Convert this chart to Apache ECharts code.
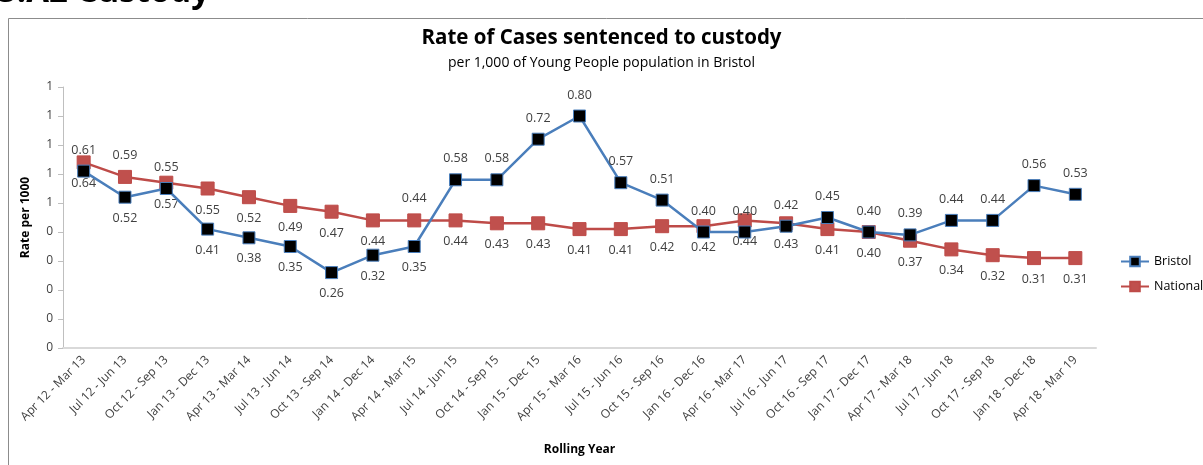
<!DOCTYPE html>
<html>
<head>
<meta charset="utf-8">
<script src="https://cdn.jsdelivr.net/npm/echarts@6/dist/echarts.min.js"></script>
<style>
  html, body { margin: 0; padding: 0; background: #fff; }
  #chart { width: 1203px; height: 465px; }
</style>
</head>
<body>
<div id="chart"></div>
<script>
// rolling year periods
const categories = [
    'Apr 12 - Mar 13', 'Jul 12 - Jun 13', 'Oct 12 - Sep 13', 'Jan 13 - Dec 13',
    'Apr 13 - Mar 14', 'Jul 13 - Jun 14', 'Oct 13 - Sep 14', 'Jan 14 - Dec 14',
    'Apr 14 - Mar 15', 'Jul 14 - Jun 15', 'Oct 14 - Sep 15', 'Jan 15 - Dec 15',
    'Apr 15 - Mar 16', 'Jul 15 - Jun 16', 'Oct 15 - Sep 16', 'Jan 16 - Dec 16',
    'Apr 16 - Mar 17', 'Jul 16 - Jun 17', 'Oct 16 - Sep 17', 'Jan 17 - Dec 17',
    'Apr 17 - Mar 18', 'Jul 17 - Jun 18', 'Oct 17 - Sep 18', 'Jan 18 - Dec 18',
    'Apr 18 - Mar 19'
]
const bristol = [0.61, 0.52, 0.55, 0.41, 0.38, 0.35, 0.26, 0.32, 0.35, 0.58, 0.58, 0.72, 0.80,
    0.57, 0.51, 0.40, 0.40, 0.42, 0.45, 0.40, 0.39, 0.44, 0.44, 0.56, 0.53]
const national = [0.64, 0.59, 0.57, 0.55, 0.52, 0.49, 0.47, 0.44, 0.44, 0.44, 0.43, 0.43, 0.41,
    0.41, 0.42, 0.42, 0.44, 0.43, 0.41, 0.40, 0.37, 0.34, 0.32, 0.31, 0.31]
const yTicks = { min: 0, max: 0.9, interval: 0.1 }

// label placement moved by hand in the original
const bristolBelow = [1, 3, 4, 5, 6, 7, 8]
const nationalAbove = [1, 8]

const font = '"Open Sans", "DejaVu Sans", sans-serif'
const textCol = '#404040'

function withLabels(values, flipList, defPos, flipPos) {
    return values.map((v, i) => ({
        value: v,
        label: { position: flipList.indexOf(i) >= 0 ? flipPos : defPos }
    }))
}

const chart = echarts.init(document.getElementById('chart'))

chart.setOption({
    animation: false,
    title: {
        text: 'Rate of Cases sentenced to custody',
        subtext: 'per 1,000 of Young People population in Bristol',
        left: 'center',
        top: 23,
        itemGap: 7,
        textStyle: { fontFamily: font, fontWeight: 'bold', fontSize: 20.5, color: '#000' },
        subtextStyle: { fontFamily: font, fontSize: 14, color: '#000' }
    },
    graphic: [
        {
            type: 'rect',
            shape: { x: 8.5, y: 18.5, width: 1200, height: 460 },
            style: { fill: 'none', stroke: '#8c8c8c', lineWidth: 1 },
            silent: true
        },
        {
            type: 'text',
            left: -2,
            top: -24,
            style: { text: '5.A2 Custody', font: 'bold 33px "Open Sans", sans-serif', fill: '#000' },
            silent: true
        }
    ],
    legend: {
        orient: 'vertical',
        left: 1115,
        top: 250,
        itemWidth: 28,
        itemHeight: 12,
        itemGap: 12,
        textStyle: { fontFamily: font, fontSize: 12.5, color: '#000' },
        data: ['Bristol', 'National']
    },
    grid: { left: 63, right: 107, top: 87, bottom: 117 },
    xAxis: {
        type: 'category',
        data: categories,
        name: 'Rolling Year',
        nameLocation: 'middle',
        nameGap: 96,
        nameTextStyle: { fontFamily: font, fontWeight: 'bold', fontSize: 12, color: '#000' },
        axisLine: { lineStyle: { color: '#d9d9d9', width: 2 } },
        axisTick: { show: false },
        axisLabel: {
            rotate: 45,
            interval: 0,
            margin: 10,
            fontFamily: font,
            fontSize: 12,
            color: textCol
        }
    },
    yAxis: {
        type: 'value',
        min: yTicks.min,
        max: yTicks.max,
        interval: yTicks.interval,
        name: 'Rate per 1000',
        nameLocation: 'middle',
        nameGap: 31,
        nameTextStyle: { fontFamily: font, fontWeight: 'bold', fontSize: 12, color: '#000' },
        axisLine: { show: true, lineStyle: { color: '#bfbfbf' } },
        axisTick: { show: true, length: 5, lineStyle: { color: '#bfbfbf' } },
        splitLine: { show: false },
        axisLabel: {
            margin: 10,
            fontFamily: font,
            fontSize: 12,
            color: textCol,
            formatter: v => String(Math.round(v))
        }
    },
    series: [
        {
            name: 'Bristol',
            type: 'line',
            data: withLabels(bristol, bristolBelow, 'top', 'bottom'),
            symbol: 'rect',
            symbolSize: 12,
            z: 3,
            lineStyle: { color: '#4a7ebb', width: 2.5 },
            itemStyle: { color: '#000', borderColor: '#4a7ebb', borderWidth: 1 },
            label: {
                show: true,
                distance: 8,
                fontFamily: font,
                fontSize: 12.5,
                color: textCol,
                formatter: p => p.value.toFixed(2)
            }
        },
        {
            name: 'National',
            type: 'line',
            data: withLabels(national, nationalAbove, 'bottom', 'top'),
            symbol: 'rect',
            symbolSize: 13,
            z: 2,
            lineStyle: { color: '#be4b48', width: 2.5 },
            itemStyle: { color: '#c0504d', borderColor: '#be4b48', borderWidth: 1 },
            label: {
                show: true,
                distance: 8,
                fontFamily: font,
                fontSize: 12.5,
                color: textCol,
                formatter: p => p.value.toFixed(2)
            }
        }
    ]
})
</script>
</body>
</html>
